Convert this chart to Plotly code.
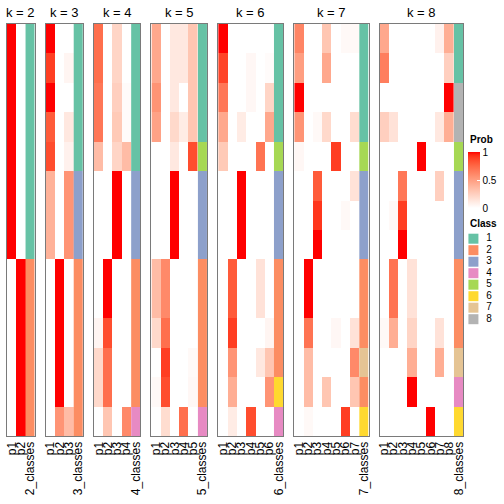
import numpy as np
import plotly.graph_objects as go

# ---------------- data ----------------
ks = [2, 3, 4, 5, 6, 7, 8]
n_rows = 14

prob_k2 = [
    [1, 0], [1, 0], [1, 0], [1, 0], [1, 0], [1, 0], [1, 0], [1, 0],
    [0, 1], [0, 1], [0, 1], [0, 1], [0, 1], [0, 1],
]
class_k2 = [1, 1, 1, 1, 1, 1, 1, 1, 2, 2, 2, 2, 2, 2]

prob_k3 = [
    [1.0, 0, 0], [0.9, 0, 0.05], [1.0, 0, 0], [0.8, 0, 0.12], [0.85, 0, 0.07],
    [0.4, 0, 0.55], [0.4, 0, 0.55], [0.4, 0, 0.55],
    [0, 1, 0], [0, 1, 0], [0, 1, 0], [0, 1, 0], [0, 1, 0], [0, 0.55, 0.35],
]
class_k3 = [1, 1, 1, 1, 1, 3, 3, 3, 2, 2, 2, 2, 2, 2]

prob_k4 = [
    [0.72, 0, 0.22, 0], [0.72, 0, 0.22, 0], [0.68, 0, 0.25, 0.02], [0.68, 0, 0.28, 0.02],
    [0.35, 0, 0.22, 0.35],
    [0, 0, 1, 0], [0, 0, 1, 0], [0, 0, 1, 0],
    [0, 1, 0, 0], [0, 1, 0, 0], [0.05, 0.85, 0, 0], [0.2, 0.72, 0, 0], [0.2, 0.72, 0, 0],
    [0, 0.3, 0, 0.6],
]
class_k4 = [1, 1, 1, 1, 1, 3, 3, 3, 2, 2, 2, 2, 2, 4]

prob_k5 = [
    [0.45, 0, 0.12, 0.12, 0.3], [0.45, 0, 0.12, 0.12, 0.3], [0.55, 0, 0.12, 0, 0.3],
    [0.48, 0, 0.2, 0.1, 0.3], [0, 0, 0.12, 0, 0.85],
    [0, 0, 1, 0, 0], [0, 0, 1, 0, 0], [0, 0, 1, 0, 0],
    [0.35, 0.6, 0, 0, 0], [0.35, 0.6, 0, 0, 0], [0.2, 0.72, 0, 0, 0],
    [0, 0.9, 0, 0, 0.03], [0.03, 0.85, 0, 0, 0.04], [0, 0.18, 0, 0.72, 0],
]
class_k5 = [1, 1, 1, 1, 5, 3, 3, 3, 2, 2, 2, 2, 2, 4]

prob_k6 = [
    [1.0, 0, 0, 0, 0, 0], [0.88, 0, 0, 0.04, 0, 0.02], [0.68, 0, 0, 0.04, 0, 0.22],
    [0.45, 0, 0.1, 0, 0, 0.45], [0.28, 0, 0, 0, 0.7, 0],
    [0, 0, 1, 0, 0, 0], [0, 0, 1, 0, 0, 0], [0, 0, 1, 0, 0, 0],
    [0, 0.8, 0, 0, 0.15, 0], [0, 0.8, 0, 0, 0.15, 0], [0, 0.9, 0, 0, 0, 0.05],
    [0, 0.55, 0, 0, 0.12, 0.3], [0, 0.42, 0, 0, 0, 0.55], [0, 0.1, 0, 0.85, 0, 0],
]
class_k6 = [1, 1, 1, 1, 5, 3, 3, 3, 2, 2, 2, 2, 6, 4]

prob_k7 = [
    [0.62, 0, 0, 0.3, 0, 0.03, 0.03], [0.5, 0, 0, 0.45, 0, 0, 0], [1.0, 0, 0, 0, 0, 0, 0],
    [0.55, 0, 0.03, 0.2, 0, 0, 0.18], [0.04, 0, 0, 0, 0.9, 0, 0],
    [0, 0, 0.8, 0, 0, 0, 0.15], [0, 0, 0.92, 0, 0, 0.03, 0], [0, 0, 1.0, 0, 0, 0, 0],
    [0, 1, 0, 0, 0, 0, 0], [0, 1, 0, 0, 0, 0, 0], [0, 0.7, 0, 0, 0.04, 0, 0.15],
    [0, 0.35, 0, 0, 0, 0, 0.6], [0, 0.35, 0, 0.3, 0, 0, 0.3], [0, 0.03, 0, 0, 0, 0.9, 0],
]
class_k7 = [1, 1, 1, 1, 5, 3, 3, 3, 2, 2, 2, 7, 2, 6]

prob_k8 = [
    [0.45, 0, 0, 0, 0, 0, 0.07, 0.42], [0.65, 0, 0, 0, 0, 0, 0, 0.25],
    [0, 0, 0, 0, 0, 0, 0, 1.0], [0.25, 0.15, 0, 0, 0, 0, 0.12, 0.42],
    [0, 0, 0, 0, 1.0, 0, 0, 0],
    [0, 0, 0.68, 0, 0, 0, 0.25, 0], [0, 0.03, 0.9, 0, 0, 0, 0, 0], [0, 0, 1.0, 0, 0, 0, 0, 0],
    [0, 0.7, 0, 0.15, 0, 0, 0, 0], [0, 0.7, 0, 0.15, 0, 0, 0, 0],
    [0.03, 0.42, 0, 0.22, 0, 0, 0.15, 0], [0, 0, 0, 0.42, 0, 0, 0.42, 0],
    [0, 0, 0, 1.0, 0, 0, 0, 0], [0, 0, 0, 0, 0, 1.0, 0, 0],
]
class_k8 = [1, 1, 8, 8, 5, 3, 3, 3, 2, 2, 2, 7, 4, 6]

probs = [prob_k2, prob_k3, prob_k4, prob_k5, prob_k6, prob_k7, prob_k8]
classes = [class_k2, class_k3, class_k4, class_k5, class_k6, class_k7, class_k8]

class_ids = [1, 2, 3, 4, 5, 6, 7, 8]
class_colors = ["#66C2A5", "#FC8D62", "#8DA0CB", "#E78AC3",
                "#A6D854", "#FFD92F", "#E5C494", "#B3B3B3"]
prob_ticks = [0, 0.5, 1]


# ---------------- styling helpers ----------------
def lab_interp_scale(c0, c1, n=21):
    def srgb_to_lin(c):
        c = c / 255.0
        return np.where(c <= 0.04045, c / 12.92, ((c + 0.055) / 1.055) ** 2.4)

    def lin_to_srgb(c):
        c = np.clip(c, 0, 1)
        return np.where(c <= 0.0031308, 12.92 * c, 1.055 * c ** (1 / 2.4) - 0.055) * 255

    M = np.array([[0.4124, 0.3576, 0.1805], [0.2126, 0.7152, 0.0722], [0.0193, 0.1192, 0.9505]])
    Minv = np.linalg.inv(M)
    wp = np.array([0.95047, 1.0, 1.08883])

    def f(t):
        return np.where(t > (6 / 29) ** 3, np.cbrt(t), t / (3 * (6 / 29) ** 2) + 4 / 29)

    def finv(t):
        return np.where(t > 6 / 29, t ** 3, 3 * (6 / 29) ** 2 * (t - 4 / 29))

    def to_lab(rgb):
        xyz = M @ srgb_to_lin(np.array(rgb, float)) / wp
        fx, fy, fz = f(xyz)
        return np.array([116 * fy - 16, 500 * (fx - fy), 200 * (fy - fz)])

    def from_lab(lab):
        L, a, b = lab
        fy = (L + 16) / 116
        xyz = np.array([finv(fy + a / 500), finv(fy), finv(fy - b / 200)]) * wp
        return lin_to_srgb(Minv @ xyz)

    l0, l1 = to_lab(c0), to_lab(c1)
    out = []
    for t in np.linspace(0, 1, n):
        r, g, b = from_lab(l0 + (l1 - l0) * t)
        out.append([float(t), f"rgb({int(round(r))},{int(round(g))},{int(round(b))})"])
    return out


prob_scale = lab_interp_scale((255, 255, 255), (255, 0, 0))

nclass = len(class_ids)
class_scale = []
for i, col in enumerate(class_colors):
    class_scale.append([i / nclass, col])
    class_scale.append([(i + 1) / nclass, col])

W = H = 504
col_w = 9.37
gap = 11.07
left0 = 5.0
top_px, bot_px = 24.0, 436.0
ydom = [1 - bot_px / H, 1 - top_px / H]
FONT = "Liberation Sans, Arial, Helvetica, sans-serif"
border = "#7a7a7a"

fig = go.Figure()
layout = dict(width=W, height=H, margin=dict(l=0, r=0, t=0, b=0),
              paper_bgcolor="white", plot_bgcolor="white",
              font=dict(family=FONT, color="black"), showlegend=False)
annotations = []

x_px = left0
for i, k in enumerate(ks):
    ncol = k + 1
    x0 = x_px
    x1 = x_px + ncol * col_w
    x_px = x1 + gap
    sfx = "" if i == 0 else str(i + 1)
    xa, ya = "x" + sfx, "y" + sfx
    z = probs[i]
    fig.add_trace(go.Heatmap(
        z=z, x=list(range(k)), y=list(range(n_rows)),
        xaxis=xa, yaxis=ya, zmin=0, zmax=1, colorscale=prob_scale,
        showscale=(i == 0),
        colorbar=dict(
            x=470 / W, xanchor="left", xpad=0,
            y=1 - 180 / H, yanchor="middle", ypad=0,
            lenmode="pixels", len=56, thickness=12, outlinewidth=0,
            tickvals=prob_ticks, ticktext=[str(v) for v in prob_ticks],
            ticks="inside", ticklen=3, tickcolor="white",
            tickfont=dict(size=10, family=FONT),
        ),
        hoverinfo="skip",
    ))
    fig.add_trace(go.Heatmap(
        z=[[c] for c in classes[i]], x=[k], y=list(range(n_rows)),
        xaxis=xa, yaxis=ya, zmin=0.5, zmax=nclass + 0.5, colorscale=class_scale,
        showscale=False, hoverinfo="skip",
    ))
    ticktext = [f"p{j+1}" for j in range(k)] + [f"{k}_classes"]
    layout["xaxis" + sfx] = dict(
        domain=[x0 / W, x1 / W], anchor=ya, range=[-0.5, k + 0.5],
        tickvals=list(range(k + 1)), ticktext=ticktext, tickangle=-90,
        tickfont=dict(size=12, family=FONT), ticks="", showgrid=False, zeroline=False,
        showline=True, mirror=True, linecolor=border, linewidth=1, fixedrange=True,
    )
    layout["yaxis" + sfx] = dict(
        domain=ydom, anchor=xa, range=[n_rows - 0.5, -0.5],
        showticklabels=False, ticks="", showgrid=False, zeroline=False,
        showline=True, mirror=True, linecolor=border, linewidth=1, fixedrange=True,
    )
    annotations.append(dict(
        text=f"k = {k}", xref=xa + " domain", x=0.5, yref="paper", y=1 - 12 / H,
        xanchor="center", yanchor="middle", showarrow=False,
        font=dict(size=13, family=FONT),
    ))

# class legend drawn on its own small axes
leg_sfx = str(len(ks) + 1)
step = 11.5
leg_top = 238.7 - step / 2
leg_bot = leg_top + step * nclass
fig.add_trace(go.Scatter(
    x=[0] * nclass, y=class_ids, mode="markers+text",
    marker=dict(symbol="square", size=10, color=class_colors, line=dict(width=0)),
    text=["  " + str(c) for c in class_ids], textposition="middle right",
    textfont=dict(size=10, family=FONT),
    xaxis="x" + leg_sfx, yaxis="y" + leg_sfx, hoverinfo="skip", cliponaxis=False,
))
layout["xaxis" + leg_sfx] = dict(domain=[470 / W, 1.0], anchor="y" + leg_sfx,
                                 range=[-0.18, 1], visible=False, fixedrange=True)
layout["yaxis" + leg_sfx] = dict(domain=[1 - leg_bot / H, 1 - leg_top / H], anchor="x" + leg_sfx,
                                 range=[nclass + 0.5, 0.5], visible=False, fixedrange=True)
annotations.append(dict(
    text="<b>Prob</b>", xref="paper", x=470 / W, yref="paper", y=1 - 139 / H,
    xanchor="left", yanchor="middle", showarrow=False, font=dict(size=10, family=FONT),
))
annotations.append(dict(
    text="<b>Class</b>", xref="paper", x=470 / W, yref="paper", y=1 - 223.5 / H,
    xanchor="left", yanchor="middle", showarrow=False, font=dict(size=10, family=FONT),
))

layout["annotations"] = annotations
fig.update_layout(**layout)
fig.write_html("out.html", config={"displayModeBar": False},
               post_script="document.body.style.margin='0';document.body.style.overflow='hidden';")
